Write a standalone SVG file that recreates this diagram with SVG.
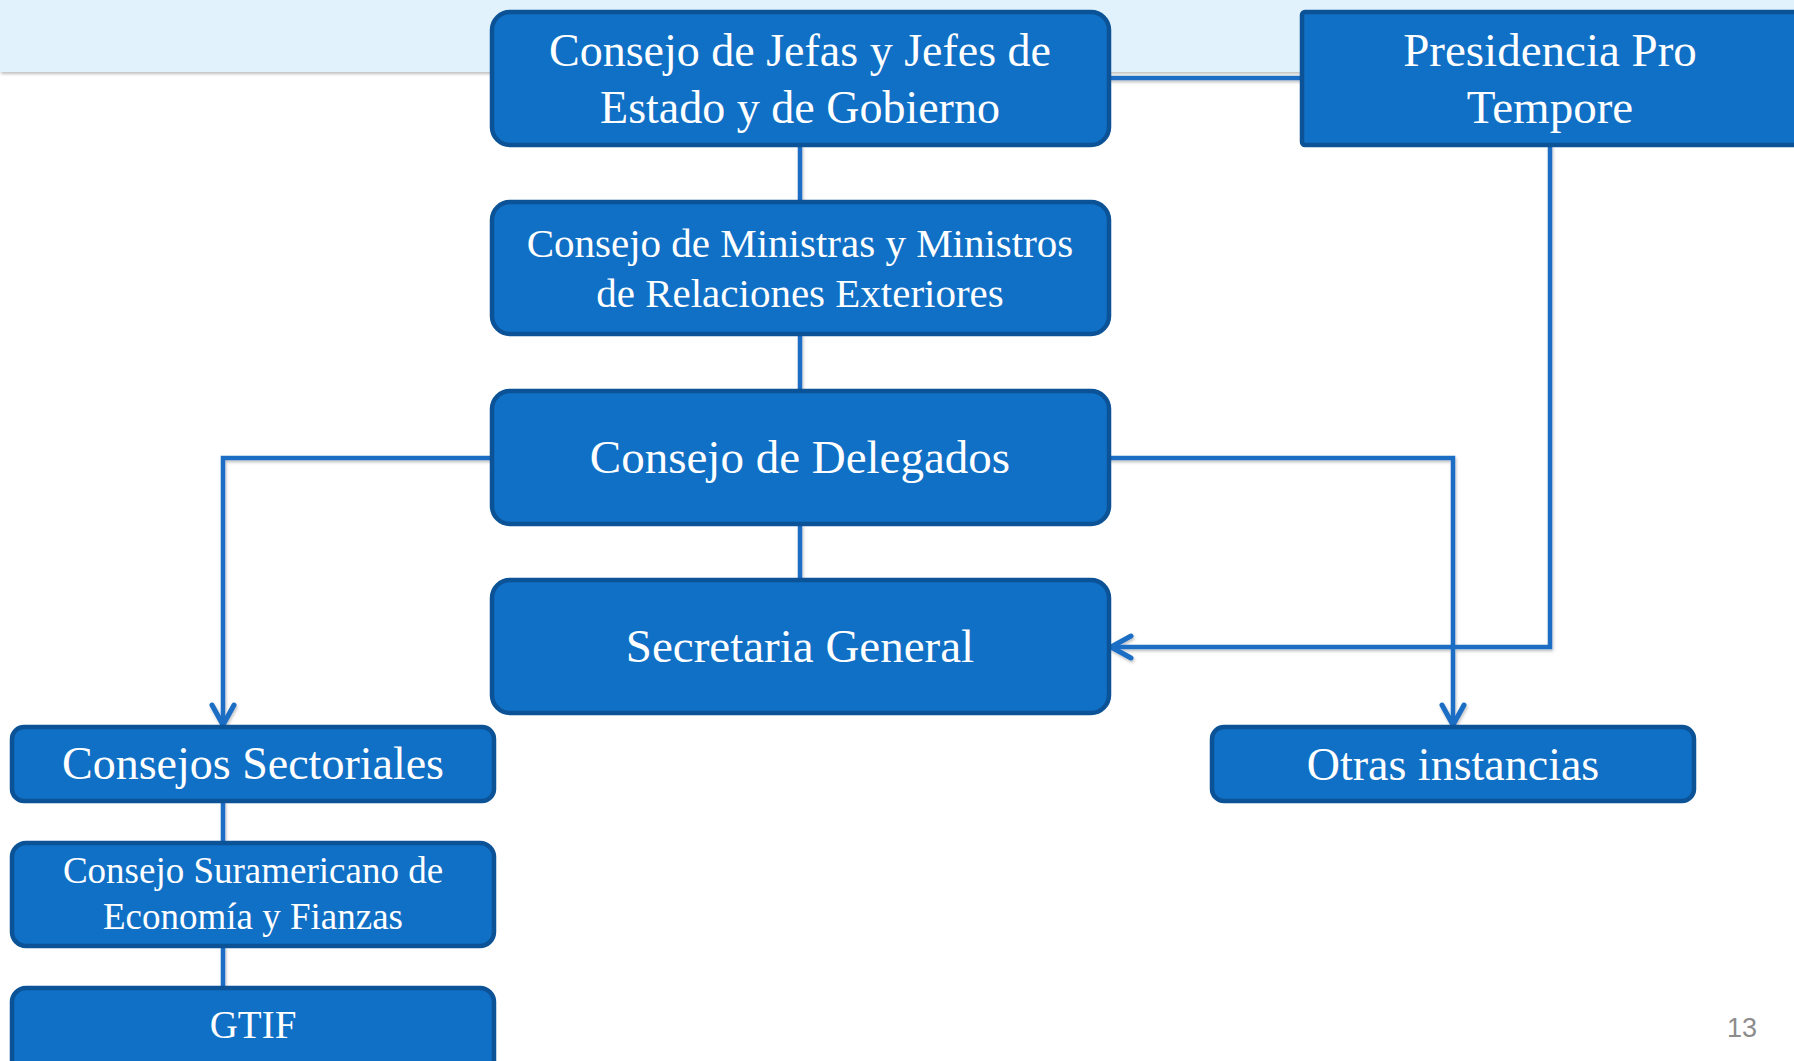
<svg xmlns="http://www.w3.org/2000/svg" width="1794" height="1061" viewBox="0 0 1794 1061">
  <defs>
    <style>
      .box { fill: #1070C6; stroke: #0B5296; stroke-width: 4.5; }
      .lbl { fill: #FFFFFF; font-family: "Liberation Serif", "Times New Roman", serif; text-anchor: middle; }
      .con { fill: none; stroke: #1A6DC4; stroke-width: 4.5; }
      .pg { fill: #8C8C8C; font-family: "Liberation Sans", Arial, sans-serif; font-size: 27px; text-anchor: middle; }
    </style>
    <marker id="arr" viewBox="-24 -14 28 28" markerWidth="28" markerHeight="28" refX="0" refY="0" orient="auto" markerUnits="userSpaceOnUse">
      <path d="M -20 -11 L 0 0 L -20 11" fill="none" stroke="#1A6DC4" stroke-width="5" stroke-linecap="round" stroke-linejoin="round"/>
    </marker>
    <filter id="sh" x="-5%" y="-5%" width="110%" height="120%">
      <feDropShadow dx="1" dy="2" stdDeviation="1.5" flood-color="#000000" flood-opacity="0.25"/>
    </filter>
  </defs>

  <rect x="0" y="0" width="1794" height="1061" fill="#FFFFFF"/>
  <g id="band">
    <rect x="0" y="0" width="1794" height="72" fill="#E1F2FD" filter="url(#sh)"/>
  </g>

  <g id="connectors" filter="url(#sh)">
    <line class="con" x1="1109" y1="78" x2="1302" y2="78"/>
    <line class="con" x1="800" y1="145" x2="800" y2="202"/>
    <line class="con" x1="800" y1="334" x2="800" y2="391"/>
    <line class="con" x1="800" y1="524" x2="800" y2="580"/>
    <polyline class="con" points="492,458 223,458 223,725" marker-end="url(#arr)"/>
    <polyline class="con" points="1109,458 1453,458 1453,725" marker-end="url(#arr)"/>
    <polyline class="con" points="1550,145 1550,647 1111,647" marker-end="url(#arr)"/>
    <line class="con" x1="223" y1="801" x2="223" y2="843"/>
    <line class="con" x1="223" y1="946" x2="223" y2="988"/>
  </g>

  <g id="n-jefes">
    <rect class="box" x="492" y="12" width="617" height="133" rx="18"/>
    <text class="lbl" font-size="46" x="800" y="66">Consejo de Jefas y Jefes de</text>
    <text class="lbl" font-size="46" x="800" y="123">Estado y de Gobierno</text>
  </g>

  <g id="n-presidencia">
    <rect class="box" x="1302" y="12" width="500" height="133" rx="3"/>
    <text class="lbl" font-size="47" x="1550" y="66">Presidencia Pro</text>
    <text class="lbl" font-size="47" x="1550" y="123">Tempore</text>
  </g>

  <g id="n-ministros">
    <rect class="box" x="492" y="202" width="617" height="132" rx="18"/>
    <text class="lbl" font-size="41" x="800" y="257">Consejo de Ministras y Ministros</text>
    <text class="lbl" font-size="41" x="800" y="307">de Relaciones Exteriores</text>
  </g>

  <g id="n-delegados">
    <rect class="box" x="492" y="391" width="617" height="133" rx="18"/>
    <text class="lbl" font-size="47" x="800" y="473">Consejo de Delegados</text>
  </g>

  <g id="n-secretaria">
    <rect class="box" x="492" y="580" width="617" height="133" rx="18"/>
    <text class="lbl" font-size="47" x="800" y="662">Secretaria General</text>
  </g>

  <g id="n-sectoriales">
    <rect class="box" x="12" y="727" width="482" height="74" rx="12"/>
    <text class="lbl" font-size="46" x="253" y="779">Consejos Sectoriales</text>
  </g>

  <g id="n-otras">
    <rect class="box" x="1212" y="727" width="482" height="74" rx="12"/>
    <text class="lbl" font-size="46" x="1453" y="780">Otras instancias</text>
  </g>

  <g id="n-suramericano">
    <rect class="box" x="12" y="843" width="482" height="103" rx="14"/>
    <text class="lbl" font-size="37" x="253" y="883">Consejo Suramericano de</text>
    <text class="lbl" font-size="37" x="253" y="929">Economía y Fianzas</text>
  </g>

  <g id="n-gtif">
    <rect class="box" x="12" y="988" width="482" height="90" rx="14"/>
    <text class="lbl" font-size="39" x="253" y="1038">GTIF</text>
  </g>

  <text class="pg" x="1742" y="1037">13</text>
</svg>
